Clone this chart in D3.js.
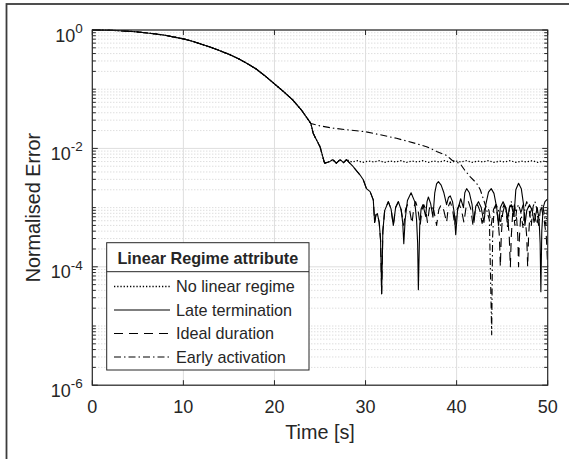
<!DOCTYPE html>
<html><head><meta charset="utf-8">
<script src="https://cdn.jsdelivr.net/npm/d3@7"></script>
<style>body{margin:0;background:#fff;} text{font-family:"Liberation Sans",Arial,Helvetica,sans-serif;fill:#262626;}</style>
</head><body><svg id="c" width="569" height="459"></svg>
<script>
// ---- data ----
const xTicks = [0, 10, 20, 30, 40, 50];
const yTickExps = [0, -2, -4, -6];
const seriesNames = ["No linear regime", "Late termination", "Ideal duration", "Early activation"];

// shared decay (all runs identical up to ~24 s)
const commonT = [0, 1, 2, 3, 4, 5, 6, 7, 8, 9, 10, 11, 12, 13, 14, 15, 16, 17, 18, 19, 20, 21, 22, 23, 23.5, 24];
const commonV = [1.0, 0.995, 0.989, 0.973, 0.955, 0.927, 0.891, 0.855, 0.813, 0.759, 0.708, 0.646, 0.575, 0.513, 0.447, 0.389, 0.331, 0.272, 0.219, 0.166, 0.123, 0.0912, 0.0661, 0.0437, 0.0339, 0.0263];

// steep drop shared by No linear / Late / Ideal
const steepT = [24.26, 25, 25.5, 26.1, 26.4, 26.8, 27.2, 27.6, 27.9];
const steepV = [0.0178, 0.0107, 0.00562, 0.00603, 0.00646, 0.00562, 0.00646, 0.00575, 0.00646];

// No linear regime (dotted plateau)
const noLinT = [28.5, 29.1, 29.7, 30.3, 30.9, 31.5, 32.1, 32.7, 33.3, 33.9, 34.5, 35.1, 35.7, 36.3, 36.9, 37.5, 38.1, 38.7, 39.3, 39.9, 40.5, 41.1, 41.7, 42.3, 42.9, 43.5, 44.1, 44.7, 45.3, 45.9, 46.5, 47.1, 47.7, 48.3, 48.9, 49.5, 50];
const noLinV = [0.0059, 0.0062, 0.0058, 0.0061, 0.0059, 0.0062, 0.0058, 0.0061, 0.0059, 0.0062, 0.0058, 0.0061, 0.0059, 0.0062, 0.0058, 0.0061, 0.0059, 0.0062, 0.0058, 0.0061, 0.0059, 0.0062, 0.0058, 0.0061, 0.0059, 0.0062, 0.0058, 0.0061, 0.0059, 0.0062, 0.0058, 0.0061, 0.0059, 0.0062, 0.0058, 0.0061, 0.0059];

// shared by Late termination and Ideal duration
const linT = [28.65, 29.4, 29.75, 30.1, 30.5, 30.85, 31.0, 31.15, 31.3, 31.5, 31.65, 31.77, 31.9, 32.1, 32.5, 32.8, 33.05, 33.3, 33.6, 33.9];
const linV = [0.0049, 0.00355, 0.00295, 0.00209, 0.00186, 0.00135, 5.6e-4, 7.6e-4, 7.9e-4, 5.6e-4, 2.8e-4, 3.5e-5, 4.0e-4, 8.9e-4, 1.26e-3, 9.5e-4, 5.0e-4, 1.0e-3, 1.26e-3, 9.3e-4];

// Late termination (solid)
const lateT = [34.08, 34.2, 34.35, 34.6, 35.0, 35.4, 35.6, 35.72, 35.8, 35.95, 36.1, 36.3, 36.6, 36.75, 36.9, 37.15, 37.4, 37.6, 37.8, 38.0, 38.3, 38.6, 38.9, 39.1, 39.3, 39.55, 39.75, 39.9, 40.1, 40.45, 40.75, 40.9, 41.1, 41.4, 41.7, 41.9, 42.1, 42.4, 42.7, 43.0, 43.2, 43.5, 43.8, 44.1, 44.4, 44.6, 44.8, 45.1, 45.4, 45.6, 45.8, 46.0, 46.3, 46.5, 46.8, 47.1, 47.35, 47.5, 47.7, 48.0, 48.3, 48.5, 48.85, 49.05, 49.17, 49.25, 49.35, 49.5, 49.7, 50];
const lateV = [5.6e-4, 2.45e-4, 6.3e-4, 1.32e-3, 1.78e-3, 1.26e-3, 6.3e-4, 2.5e-4, 4.1e-5, 5.0e-4, 9.5e-4, 1.12e-3, 7.1e-4, 1.26e-3, 1.51e-3, 1.17e-3, 6.9e-4, 1.78e-3, 2.51e-3, 2.75e-3, 2.4e-3, 1.78e-3, 1.12e-3, 1.48e-3, 1.58e-3, 1.26e-3, 7.9e-4, 3.5e-4, 8.9e-4, 1.41e-3, 1.0e-3, 1.78e-3, 2.09e-3, 1.78e-3, 1.12e-3, 5.6e-4, 1.05e-3, 1.26e-3, 1.0e-3, 5.6e-4, 1.12e-3, 1.82e-3, 2.09e-3, 1.74e-3, 1.0e-3, 5.0e-4, 1.0e-3, 1.26e-3, 1.0e-3, 6.3e-4, 1.0e-3, 1.12e-3, 7.1e-4, 2.0e-3, 2.57e-3, 2.09e-3, 1.12e-3, 5.0e-4, 8.9e-4, 1.12e-3, 8.9e-4, 5.6e-4, 1.0e-3, 6.3e-4, 2.5e-4, 3.8e-5, 4.0e-4, 1.0e-3, 1.26e-3, 1.41e-3];

// Ideal duration (dashed)
const idealT = [34.2, 34.4, 34.6, 34.85, 35.1, 35.3, 35.5, 35.75, 36.0, 36.2, 36.4, 36.6, 36.8, 37.0, 37.2, 37.5, 37.8, 38.05, 38.3, 38.6, 38.9, 39.1, 39.3, 39.55, 39.8, 40.05, 40.3, 40.55, 40.8, 41.05, 41.3, 41.55, 41.8, 42.05, 42.3, 42.55, 42.8, 43.05, 43.3, 43.55, 43.8, 44.05, 44.3, 44.55, 44.7, 44.8, 44.9, 45.05, 45.3, 45.6, 45.78, 45.9, 46.0, 46.15, 46.35, 46.6, 46.72, 46.8, 46.9, 47.05, 47.3, 47.55, 47.7, 47.8, 47.9, 48.05, 48.3, 48.55, 48.8, 49.05, 49.3, 49.6, 49.85, 50];
const idealV = [5.0e-4, 9.5e-4, 1.12e-3, 8.9e-4, 5.4e-4, 1.0e-3, 1.26e-3, 9.5e-4, 5.0e-4, 9.3e-4, 1.12e-3, 9.3e-4, 5.6e-4, 9.5e-4, 1.12e-3, 8.9e-4, 5.0e-4, 9.3e-4, 1.12e-3, 8.9e-4, 5.6e-4, 1.05e-3, 1.26e-3, 9.5e-4, 5.0e-4, 9.3e-4, 1.12e-3, 8.9e-4, 5.6e-4, 1.05e-3, 1.26e-3, 9.5e-4, 5.0e-4, 9.3e-4, 1.12e-3, 8.9e-4, 5.4e-4, 9.3e-4, 1.12e-3, 8.9e-4, 5.0e-4, 9.3e-4, 1.12e-3, 6.3e-4, 3.2e-4, 1.0e-4, 3.2e-4, 7.9e-4, 1.12e-3, 7.1e-4, 3.2e-4, 1.0e-4, 3.2e-4, 7.9e-4, 1.12e-3, 6.3e-4, 3.2e-4, 1.0e-4, 3.2e-4, 7.9e-4, 1.12e-3, 6.3e-4, 3.2e-4, 1.0e-4, 3.2e-4, 7.9e-4, 1.0e-3, 7.9e-4, 5.0e-4, 8.3e-4, 1.0e-3, 6.3e-4, 3.2e-4, 1.0e-4];

// Early activation (dash-dot)
const earlyT = [25, 26.5, 28.3, 30, 31.6, 33.4, 35.6, 36.7, 37.8, 38.9, 39.5, 40.4, 40.9, 41.5, 42.2, 42.6, 43.1, 43.6, 43.85, 43.95, 44.1, 44.35, 44.6, 44.8, 45.0, 45.2, 45.45, 45.6, 45.8, 46.0, 46.2, 46.4, 46.6, 46.8, 47.05, 47.3, 47.5, 47.7, 47.95, 48.2, 48.4, 48.6, 48.8, 49.0, 49.2, 49.4, 49.6, 49.8, 50];
const earlyV = [0.024, 0.0219, 0.0204, 0.0191, 0.0170, 0.0148, 0.0120, 0.0107, 0.0089, 0.0076, 0.0063, 0.0055, 0.00427, 0.00331, 0.00257, 0.0020, 0.00117, 6.17e-4, 7.1e-6, 3.2e-4, 8.9e-4, 1.12e-3, 8.9e-4, 5.0e-4, 9.3e-4, 1.12e-3, 8.3e-4, 4.5e-4, 1.0e-3, 1.26e-3, 9.5e-4, 5.0e-4, 9.5e-4, 1.12e-3, 8.3e-4, 4.5e-4, 1.0e-3, 1.26e-3, 9.5e-4, 5.0e-4, 1.05e-3, 1.26e-3, 9.5e-4, 5.0e-4, 9.3e-4, 1.12e-3, 8.3e-4, 5.0e-4, 1.0e-3];

const pairs = (T, V) => T.map((t, j) => [t, V[j]]);
const seriesPts = [
  pairs(commonT, commonV).concat(pairs(steepT, steepV), pairs(noLinT, noLinV)),
  pairs(commonT, commonV).concat(pairs(steepT, steepV), pairs(linT, linV), pairs(lateT, lateV)),
  pairs(commonT, commonV).concat(pairs(steepT, steepV), pairs(linT, linV), pairs(idealT, idealV)),
  pairs(commonT, commonV).concat(pairs(earlyT, earlyV))
];
const dashes = ["1.3,1.9", null, "9,6", "7,3,1.5,3"];
const widths = [1.3, 1.1, 1.1, 1.1];

// ---- chart ----
const svg = d3.select("#c");
const W = 569, H = 459;
const m = {l: 92.3, t: 30, r: 547.7, b: 385.2};
const x = d3.scaleLinear().domain([0, 50]).range([m.l, m.r]);
const y = d3.scaleLog().domain([1e-6, 1]).range([m.b, m.t]);

svg.append("rect").attr("width", W).attr("height", H).attr("fill", "#fff");
svg.append("rect").attr("x", 6.5).attr("y", 4).attr("width", 700).attr("height", 700)
  .attr("fill", "none").attr("stroke", "#3c3c3c").attr("stroke-width", 1.8);

const g = svg.append("g");
const minorVals = [];
for (let d = -6; d < 0; d++) for (let k = 1; k <= 9; k++) {
  const v = k * Math.pow(10, d);
  if (!(k === 1 && d % 2 === 0)) minorVals.push(v);
}
g.selectAll(".mg").data(minorVals).enter().append("line")
  .attr("x1", m.l).attr("x2", m.r).attr("y1", d => y(d)).attr("y2", d => y(d))
  .attr("stroke", "#c4c4c4").attr("stroke-width", 0.8).attr("stroke-dasharray", "1,2");
g.selectAll(".Mg").data(yTickExps).enter().append("line")
  .attr("x1", m.l).attr("x2", m.r).attr("y1", d => y(Math.pow(10, d))).attr("y2", d => y(Math.pow(10, d)))
  .attr("stroke", "#dedede").attr("stroke-width", 1);
g.selectAll(".Mgx").data(xTicks.slice(1, -1)).enter().append("line")
  .attr("y1", m.t).attr("y2", m.b).attr("x1", d => x(d)).attr("x2", d => x(d))
  .attr("stroke", "#dedede").attr("stroke-width", 1);

const line = d3.line().x(d => x(d[0])).y(d => y(d[1]));
seriesPts.forEach((pts, i) => {
  const p = svg.append("path").datum(pts).attr("d", line).attr("fill", "none")
    .attr("stroke", "#000").attr("stroke-width", widths[i]).attr("stroke-linejoin", "round");
  if (dashes[i]) p.attr("stroke-dasharray", dashes[i]);
});

const ax = svg.append("g").attr("stroke", "#262626").attr("fill", "none");
ax.append("rect").attr("x", m.l).attr("y", m.t).attr("width", m.r - m.l).attr("height", m.b - m.t).attr("stroke-width", 1.2);
xTicks.forEach(t => {
  ax.append("line").attr("x1", x(t)).attr("x2", x(t)).attr("y1", m.b).attr("y2", m.b - 5);
  ax.append("line").attr("x1", x(t)).attr("x2", x(t)).attr("y1", m.t).attr("y2", m.t + 5);
});
minorVals.forEach(v => {
  ax.append("line").attr("x1", m.l).attr("x2", m.l + 3.5).attr("y1", y(v)).attr("y2", y(v));
  ax.append("line").attr("x1", m.r).attr("x2", m.r - 3.5).attr("y1", y(v)).attr("y2", y(v));
});
yTickExps.forEach(e => {
  ax.append("line").attr("x1", m.l).attr("x2", m.l + 5.5).attr("y1", y(Math.pow(10, e))).attr("y2", y(Math.pow(10, e)));
  ax.append("line").attr("x1", m.r).attr("x2", m.r - 5.5).attr("y1", y(Math.pow(10, e))).attr("y2", y(Math.pow(10, e)));
});

xTicks.forEach(t => {
  svg.append("text").attr("x", x(t)).attr("y", m.b + 27.5).attr("text-anchor", "middle")
    .attr("font-size", 18).text(t);
});
yTickExps.forEach(e => {
  const tx = svg.append("text").attr("x", m.l - 9.5).attr("y", y(Math.pow(10, e)) + 11.5)
    .attr("text-anchor", "end").attr("font-size", 18);
  tx.append("tspan").text("10");
  tx.append("tspan").attr("dy", -8.5).attr("font-size", 13.5).text(String(e));
});
svg.append("text").attr("x", (m.l + m.r) / 2).attr("y", 439).attr("text-anchor", "middle")
  .attr("font-size", 19.8).text("Time [s]");
svg.append("text").attr("transform", `translate(40,${(m.t + m.b) / 2}) rotate(-90)`)
  .attr("text-anchor", "middle").attr("font-size", 19.8).text("Normalised Error");

const L = {x: 106.7, y: 242.7, w: 202.3, h: 127.3};
const lg = svg.append("g");
lg.append("rect").attr("x", L.x).attr("y", L.y).attr("width", L.w).attr("height", L.h)
  .attr("fill", "#fff").attr("stroke", "#262626").attr("stroke-width", 1);
lg.append("line").attr("x1", L.x).attr("x2", L.x + L.w).attr("y1", 271.7).attr("y2", 271.7)
  .attr("stroke", "#262626").attr("stroke-width", 1);
lg.append("text").attr("x", L.x + L.w / 2).attr("y", 264).attr("text-anchor", "middle")
  .attr("font-size", 16.2).attr("font-weight", "bold").attr("fill", "#000").text("Linear Regime attribute");
seriesNames.forEach((n, i) => {
  const by = 292.3 + i * 23.5;
  const ln = lg.append("line").attr("x1", 114).attr("x2", 170).attr("y1", by - 5.8).attr("y2", by - 5.8)
    .attr("stroke", "#000").attr("stroke-width", widths[i]);
  if (dashes[i]) ln.attr("stroke-dasharray", dashes[i]);
  lg.append("text").attr("x", 176).attr("y", by).attr("font-size", 16.2).attr("fill", "#000").text(n);
});
</script></body></html>
